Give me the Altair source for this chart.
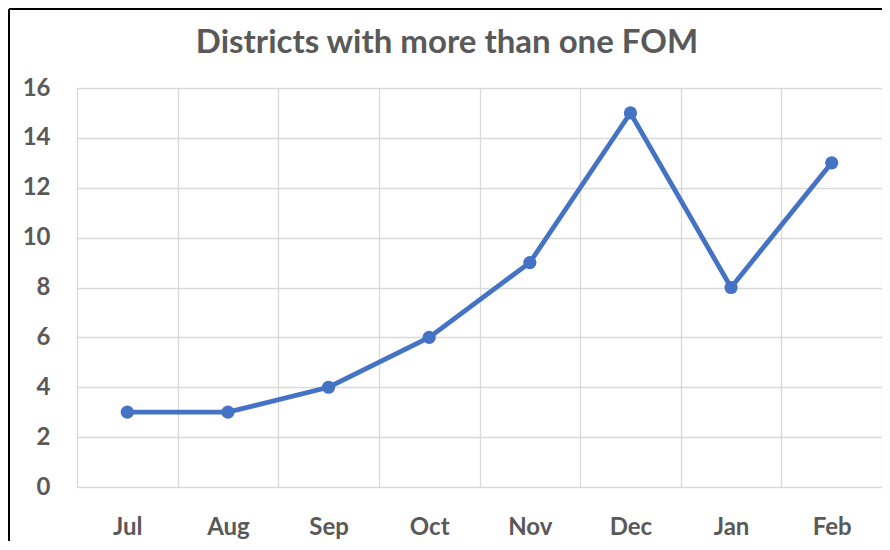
import altair as alt
import pandas as pd

months = ["Jul", "Aug", "Sep", "Oct", "Nov", "Dec", "Jan", "Feb"]
values = [3, 3, 4, 6, 9, 15, 8, 13]
y_ticks = [0, 2, 4, 6, 8, 10, 12, 14, 16]
title_text = "Districts with more than one FOM"

df = pd.DataFrame({"month": months, "value": values})
one = pd.DataFrame({"t": [title_text]})

FONT = "Lato"
GRAY = "#595959"
GRID = "#d9d9d9"
BLUE = "#4472C4"

x_enc = alt.X(
    "month:N",
    sort=months,
    bandPosition=0.5,
    scale=alt.Scale(type="band", domain=months, paddingInner=0, paddingOuter=0),
    axis=alt.Axis(
        title=None, grid=True, tickBand="extent", ticks=False, domain=False,
        gridColor=GRID, gridWidth=1.3, labelFont=FONT, labelFontSize=24,
        labelFontWeight="bold", labelColor=GRAY, labelPadding=47,
        labelBaseline="alphabetic", labelAngle=0,
    ),
)
y_enc = alt.Y(
    "value:Q",
    scale=alt.Scale(domain=[0, 16], nice=False),
    axis=alt.Axis(
        title=None, values=y_ticks, grid=True, ticks=False, domain=False,
        gridColor=GRID, gridWidth=1.3, labelFont=FONT, labelFontSize=24,
        labelFontWeight="bold", labelColor=GRAY, labelPadding=27,
    ),
)

base = alt.Chart(df)
line = base.mark_line(color=BLUE, strokeWidth=4.8).encode(x=x_enc, y=y_enc)
pts = base.mark_circle(color=BLUE, opacity=1, size=175).encode(x=x_enc, y=y_enc)

title = alt.Chart(one).mark_text(
    font=FONT, fontSize=33, fontWeight="bold", color=GRAY,
    align="center", baseline="alphabetic",
).encode(text="t:N", x=alt.value(370), y=alt.value(-35))

frame_top = alt.Chart(one).mark_rule(color="#000000", strokeWidth=2).encode(
    x=alt.value(-68), x2=alt.value(810), y=alt.value(-79)
)
frame_left = alt.Chart(one).mark_rule(color="#000000", strokeWidth=2).encode(
    x=alt.value(-68), y=alt.value(-79), y2=alt.value(460)
)

chart = alt.layer(line, pts, title, frame_top, frame_left).properties(
    width=805,
    height=399,
    autosize=alt.AutoSizeParams(type="none"),
    padding={"left": 69, "top": 80, "right": 0, "bottom": 54},
).configure_view(stroke=GRID, strokeWidth=1.3).configure(background="white")

chart.save("out.html", embed_options={"renderer": "svg", "actions": False})
